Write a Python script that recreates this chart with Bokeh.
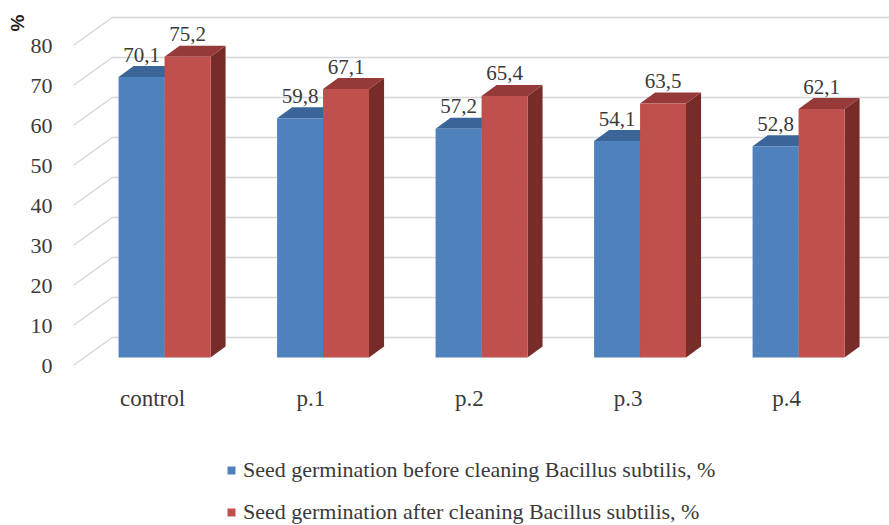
from bokeh.plotting import figure
from bokeh.models import (Range1d, LinearAxis, FixedTicker, Legend, LegendItem,
                          Title, ColumnDataSource)
from bokeh.embed import file_html
from bokeh.resources import INLINE
from bokeh.core.properties import value

# ---------------- data ----------------
categories = ["control", "p.1", "p.2", "p.3", "p.4"]
before = [70.1, 59.8, 57.2, 54.1, 52.8]
after = [75.2, 67.1, 65.4, 63.5, 62.1]
y_ticks = [0, 10, 20, 30, 40, 50, 60, 70, 80]
series_names = ["Seed germination before cleaning Bacillus subtilis, %",
                "Seed germination after cleaning Bacillus subtilis, %"]
y_unit = "%"

# ---------------- style / 3D geometry ----------------
FONT = "Liberation Serif"
TXT = "#3a3a3a"
GRID = "#d6d6d6"
BLUE, BLUE_TOP, BLUE_SIDE = "#4f81bd", "#3b6598", "#2f5078"
RED, RED_TOP, RED_SIDE = "#c0504d", "#953a38", "#772c2a"

WALL_DX, WALL_DY = 0.246, 7.0     # depth of back wall (x units, value units)
BAR_OX, BAR_OY = 0.076, 2.0       # bar plane offset from front plane
BAR_DX, BAR_DY = 0.095, 2.75      # bar depth
BAR_W = 0.29                      # width of one bar
X0, X1 = -0.5804, 4.6498
Y0, Y1 = -40.0, 91.25

p = figure(width=889, height=525, output_backend="svg", toolbar_location=None,
           x_range=Range1d(X0, X1), y_range=Range1d(Y0, Y1),
           x_axis_type=None, y_axis_type=None,
           min_border_left=60, min_border_right=0, min_border_top=0, min_border_bottom=0)
p.outline_line_color = None
p.grid.visible = False
p.background_fill_color = "white"
p.border_fill_color = "white"

# y axis (front plane)
yax = LinearAxis(ticker=FixedTicker(ticks=y_ticks))
yax.axis_line_color = None
yax.major_tick_line_color = None
yax.minor_tick_line_color = None
yax.major_tick_out = 0
yax.major_label_standoff = 8
yax.major_label_text_font = FONT
yax.major_label_text_font_size = "22px"
yax.major_label_text_color = TXT
p.add_layout(yax, "left")
p.add_layout(Title(text=y_unit, align="right", offset=14, standoff=0,
                   text_font="Liberation Sans", text_font_size="19px",
                   text_font_style="bold", text_color="#222222"), "left")

# side wall diagonals and back wall gridlines
wx0 = -0.5
n = len(y_ticks)
p.segment(x0=[wx0] * n, y0=y_ticks,
          x1=[wx0 + WALL_DX] * n, y1=[t + WALL_DY for t in y_ticks],
          line_color=GRID, line_width=1.5)
p.segment(x0=[wx0 + WALL_DX] * n, y0=[t + WALL_DY for t in y_ticks],
          x1=[X1 + 1] * n, y1=[t + WALL_DY for t in y_ticks],
          line_color=GRID, line_width=1.5)

idx = list(range(len(categories)))
centers = [i + BAR_OX for i in idx]


def draw_series(vals, lefts, rights, c_front, c_top, c_side):
    tops = [BAR_OY + v for v in vals]
    side_xs = [[r, r + BAR_DX, r + BAR_DX, r] for r in rights]
    side_ys = [[BAR_OY, BAR_OY + BAR_DY, t + BAR_DY, t] for t in tops]
    p.patches(side_xs, side_ys, fill_color=c_side, line_color=None)
    top_xs = [[l, r, r + BAR_DX, l + BAR_DX] for l, r in zip(lefts, rights)]
    top_ys = [[t, t, t + BAR_DY, t + BAR_DY] for t in tops]
    p.patches(top_xs, top_ys, fill_color=c_top, line_color=None)
    src = ColumnDataSource(dict(left=lefts, right=rights,
                                bottom=[BAR_OY] * len(vals), top=tops))
    r = p.quad(left="left", right="right", bottom="bottom", top="top", source=src,
               fill_color=c_front, line_color=None)
    lab = ColumnDataSource(dict(
        x=[(l + rr) / 2 for l, rr in zip(lefts, rights)],
        y=[t + BAR_DY + 2.9 for t in tops],
        t=[("%.1f" % v).replace(".", ",") for v in vals]))
    p.text(x="x", y="y", text="t", source=lab, text_font=value(FONT),
           text_font_size=value("21px"), text_color=TXT, text_align="center",
           text_baseline="middle")
    return r


r_before = draw_series(before, [c - BAR_W for c in centers], centers,
                       BLUE, BLUE_TOP, BLUE_SIDE)
r_after = draw_series(after, centers, [c + BAR_W for c in centers],
                      RED, RED_TOP, RED_SIDE)

# category labels on the front plane
p.text(x=idx, y=[-8.25] * len(idx), text=categories, text_font=value(FONT),
       text_font_size=value("23px"), text_color=TXT, text_align="center",
       text_baseline="middle")

legend = Legend(items=[LegendItem(label=series_names[0], renderers=[r_before]),
                       LegendItem(label=series_names[1], renderers=[r_after])],
                location=(166, 0), orientation="vertical",
                glyph_width=10, glyph_height=10, label_standoff=7,
                label_text_font=FONT, label_text_font_size="22px",
                label_text_color=TXT, spacing=16, padding=0, margin=0,
                border_line_color=None, background_fill_alpha=0)
p.add_layout(legend, "center")

open("out.html", "w").write(file_html(p, INLINE))
